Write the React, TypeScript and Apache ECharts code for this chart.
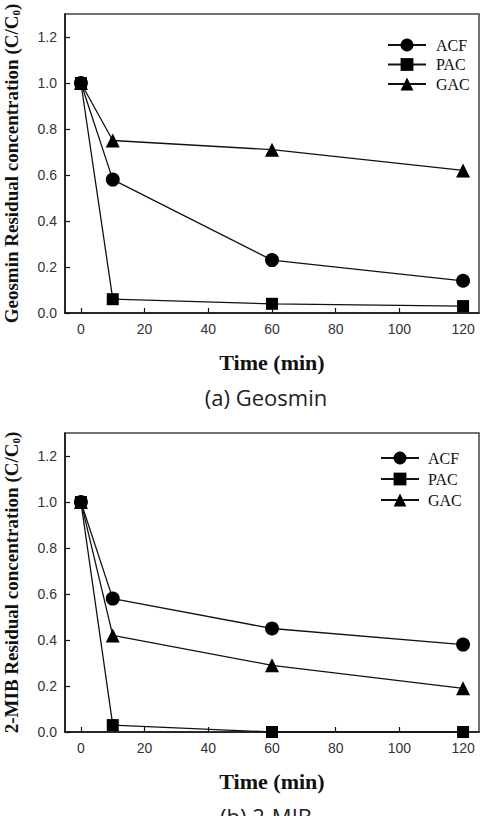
import { useEffect, useRef } from "react";
import * as echarts from "echarts";

// Contact times (min)
const times = [0, 10, 60, 120];
const adsorbents = ["ACF", "PAC", "GAC"];

// Residual concentration C/C0 — Geosmin
const geosminACF = [1.0, 0.58, 0.23, 0.14];
const geosminPAC = [1.0, 0.06, 0.04, 0.03];
const geosminGAC = [1.0, 0.75, 0.71, 0.62];

// Residual concentration C/C0 — 2-MIB
const mibACF = [1.0, 0.58, 0.45, 0.38];
const mibPAC = [1.0, 0.03, 0.0, 0.0];
const mibGAC = [1.0, 0.42, 0.29, 0.19];

const xTicks = [0, 20, 40, 60, 80, 100, 120];
const yTicks = [0, 0.2, 0.4, 0.6, 0.8, 1.0, 1.2];
const compounds = ["Geosmin", "2-MIB"];
const captions = ["(a) Geosmin", "(b) 2-MIB"];

const symbols = ["circle", "rect", "triangle"];
const symbolSizes = [14, 12, 14];

const SERIF = "'Liberation Serif', 'Times New Roman', serif";
const SANS = "'Liberation Sans', Arial, sans-serif";

const panels = [
  { top: 14, legendTop: 32, legendLeft: 382, gap: 3.5, textPad: 5, series: [geosminACF, geosminPAC, geosminGAC] },
  { top: 433, legendTop: 445, legendLeft: 375, gap: 5, textPad: 4, series: [mibACF, mibPAC, mibGAC] },
];

const GRID_LEFT = 65;
const GRID_W = 414;
const GRID_H = 299;

export default function App() {
  const ref = useRef<HTMLDivElement>(null);

  useEffect(() => {
    if (!ref.current) return;
    const chart = echarts.init(ref.current, undefined, { renderer: "svg" });

    const grid = panels.map((p) => ({
      left: GRID_LEFT,
      top: p.top,
      width: GRID_W,
      height: GRID_H,
      containLabel: false,
      outerBoundsMode: "none",
      show: true,
      borderColor: "#444",
      borderWidth: 1.5,
      backgroundColor: "#fff",
    }));

    const xAxis = panels.map((_, i) => ({
      type: "value",
      gridIndex: i,
      min: -5,
      max: 125,
      name: "Time (min)",
      nameLocation: "middle",
      nameGap: 38,
      nameTextStyle: { fontFamily: SERIF, fontWeight: "bold", fontSize: 22, color: "#111" },
      axisLine: { show: true, onZero: false, lineStyle: { color: "#111", width: 1.5 } },
      axisTick: { show: true, inside: true, length: 5, customValues: xTicks, lineStyle: { color: "#111", width: 1.2 } },
      axisLabel: { customValues: xTicks, margin: 9, fontFamily: SANS, fontSize: 14, color: "#333" },
      splitLine: { show: false },
    }));

    const yAxis = panels.map((_, i) => ({
      type: "value",
      gridIndex: i,
      min: 0,
      max: 1.3,
      name: `{t|${compounds[i]} Residual concentration (C/C}{s|0}{t|)}`,
      nameLocation: "middle",
      nameRotate: 90,
      nameGap: 44,
      nameTextStyle: {
        rich: {
          t: { fontFamily: SERIF, fontWeight: "bold", fontSize: 19, color: "#111" },
          s: { fontFamily: SERIF, fontWeight: "bold", fontSize: 11, color: "#111", verticalAlign: "bottom", padding: [6, 0, 0, 0] },
        },
      },
      axisLine: { show: true, onZero: false, lineStyle: { color: "#111", width: 1.5 } },
      axisTick: { show: true, inside: true, length: 5, customValues: yTicks, lineStyle: { color: "#111", width: 1.2 } },
      axisLabel: {
        customValues: yTicks,
        margin: 8,
        fontFamily: SANS,
        fontSize: 14,
        color: "#333",
        formatter: (v: number) => v.toFixed(1),
      },
      splitLine: { show: false },
    }));

    const series: any[] = [];
    panels.forEach((p, pi) => {
      p.series.forEach((vals, si) => {
        series.push({
          type: "line",
          name: adsorbents[si],
          xAxisIndex: pi,
          yAxisIndex: pi,
          data: times.map((t, k) => [t, vals[k]]),
          symbol: symbols[si],
          symbolSize: symbolSizes[si],
          itemStyle: { color: "#000" },
          lineStyle: { color: "#111", width: 1.3 },
          z: 3 - si,
        });
      });
    });

    const legend = panels.map((p) => ({
      data: adsorbents,
      orient: "vertical",
      left: p.legendLeft,
      top: p.legendTop,
      itemWidth: 38,
      itemHeight: 16,
      itemGap: p.gap,
      selectedMode: false,
      textStyle: { fontFamily: SERIF, fontSize: 16, color: "#111", padding: [0, 0, 0, p.textPad] },
    }));

    const graphic = captions.map((c, i) => ({
      type: "text",
      x: 266,
      y: i === 0 ? 397 : 816,
      style: {
        text: c,
        font: "22px 'Open Sans', sans-serif",
        fill: "#222",
        align: "center",
        verticalAlign: "middle",
      },
    }));

    chart.setOption({
      animation: false,
      backgroundColor: "#fff",
      grid,
      xAxis,
      yAxis,
      legend,
      series,
      graphic,
    } as any);

    return () => chart.dispose();
  }, []);

  return (
    <div
      ref={ref}
      style={{ position: "absolute", left: 0, top: 0, width: 488, height: 816 }}
    />
  );
}
